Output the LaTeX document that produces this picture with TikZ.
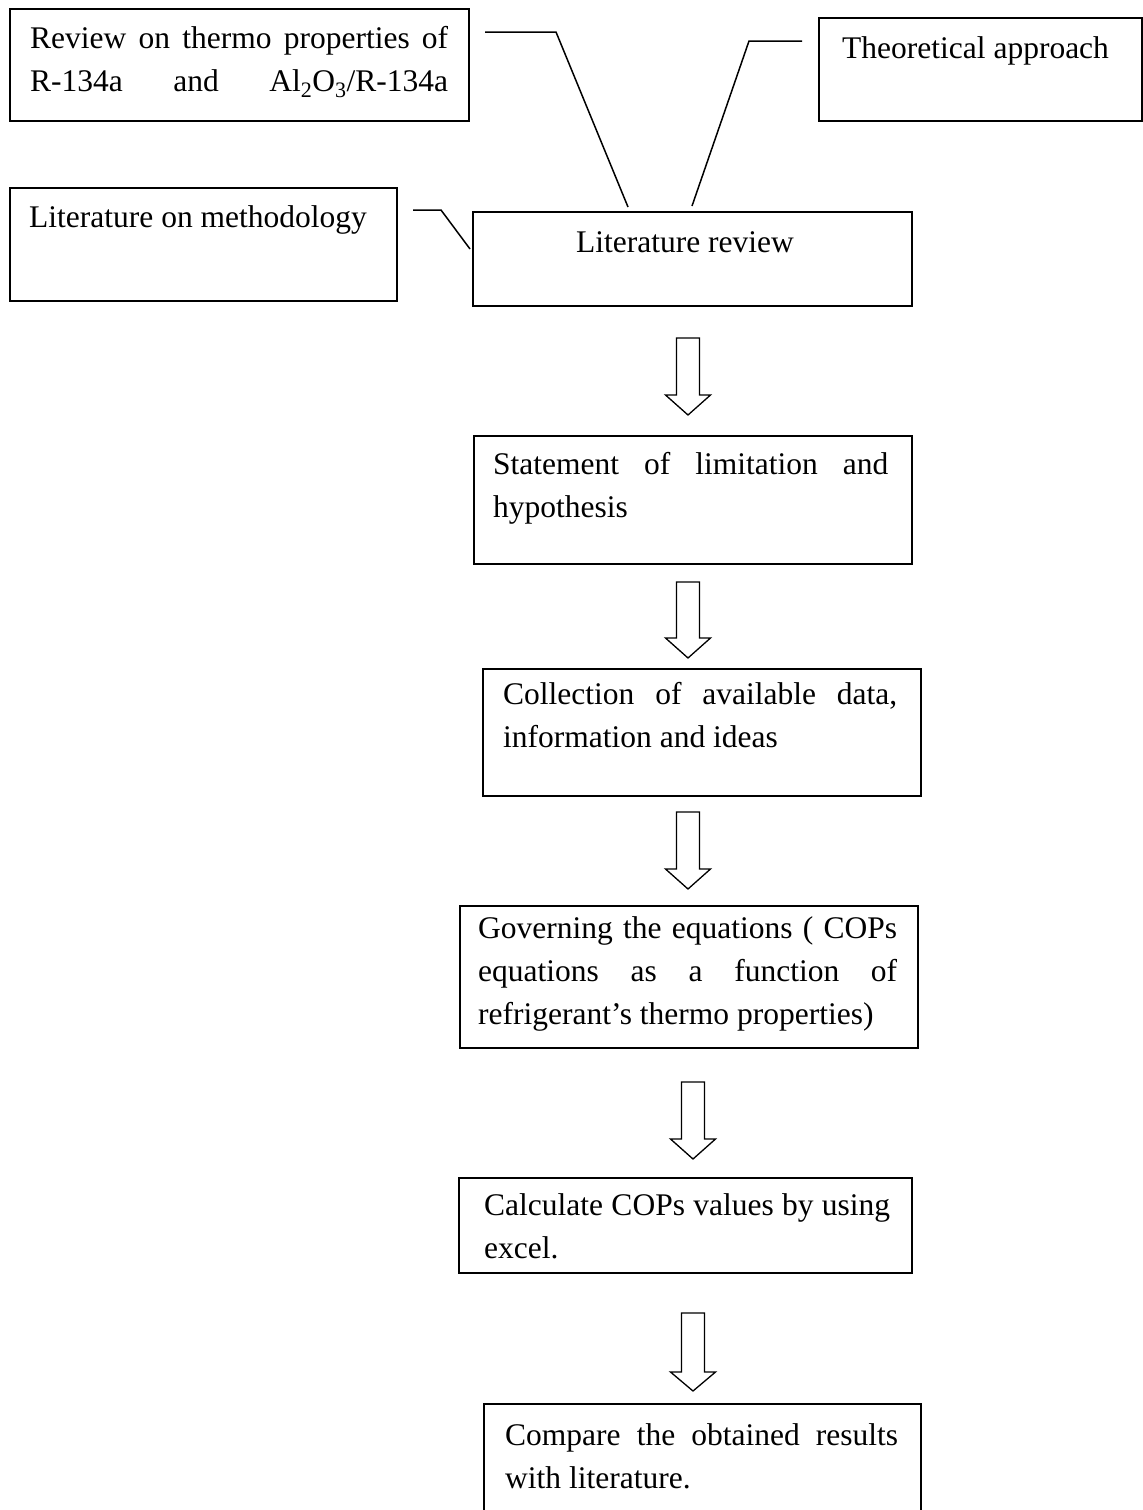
\documentclass[tikz,border=0pt]{standalone}
\usepackage{fontspec}
\setmainfont{Liberation Serif}
\newcommand\flowarrow[4]{%
  \draw[bigarrow] (#1-11.5,#2) -- (#1+11.5,#2) -- (#1+11.5,#3) -- (#1+22.5,#3)
    -- (#1,#4) -- (#1-22.5,#3) -- (#1-11.5,#3) -- cycle;}
\begin{document}
\begin{tikzpicture}[x=1pt,y=-1pt,
  box/.style={draw, line width=1.6pt, rectangle, inner sep=0pt, anchor=north west},
  txt/.style={inner sep=0pt, anchor=base west, font=\fontsize{31.5}{43}\selectfont},
  link/.style={line width=1.5pt, line join=miter},
  bigarrow/.style={draw, line width=1.3pt, fill=white, line join=miter}]
\clip (0,0) rectangle (1143,1510);
\fill[white] (0,0) rectangle (1143,1510);

% boxes
\node[box, minimum width=459, minimum height=112] (b1) at (9,8) {};
\node[box, minimum width=323, minimum height=103] (b2) at (818,17) {};
\node[box, minimum width=387, minimum height=113] (b3) at (9,187) {};
\node[box, minimum width=439, minimum height=94]  (b4) at (472,211) {};
\node[box, minimum width=438, minimum height=128] (b5) at (473,435) {};
\node[box, minimum width=438, minimum height=127] (b6) at (482,668) {};
\node[box, minimum width=458, minimum height=142] (b7) at (459,905) {};
\node[box, minimum width=453, minimum height=95]  (b8) at (458,1177) {};
\node[box, minimum width=437, minimum height=140] (b9) at (483,1403) {};

% texts
\node[txt] (t1) at (30,48) {\parbox[t]{418pt}{Review on thermo properties of\linebreak
  \makebox[\linewidth][s]{R-134a and Al\textsubscript{2}O\textsubscript{3}/R-134a}}};
\node[txt] (t2) at (842,58) {Theoretical approach};
\node[txt] (t3) at (29,227) {Literature on methodology};
\node[txt, anchor=base] (t4) at (685,252) {Literature review};
\node[txt] (t5) at (493,474) {\parbox[t]{395pt}{Statement of limitation and\linebreak hypothesis}};
\node[txt] (t6) at (503,704) {\parbox[t]{394pt}{Collection of available data,\linebreak information and ideas}};
\node[txt] (t7) at (478,938) {\parbox[t]{419pt}{Governing the equations ( COPs\linebreak equations as a function of\linebreak refrigerant’s thermo properties)}};
\node[txt] (t8) at (484,1215) {\parbox[t]{406pt}{Calculate COPs values by using\linebreak excel.}};
\node[txt] (t9) at (505,1445) {\parbox[t]{393pt}{Compare the obtained results\linebreak with literature.}};

% connectors to literature review
\coordinate (c1a) at (485,32);  \coordinate (c1b) at (556,32);  \coordinate (c1c) at (628,207);
\coordinate (c2a) at (802,41);  \coordinate (c2b) at (749,41);  \coordinate (c2c) at (692,206);
\coordinate (c3a) at (413,210); \coordinate (c3b) at (441,210); \coordinate (c3c) at (470,249);
\draw[link] (c1a) -- (c1b) -- (c1c);
\draw[link] (c2a) -- (c2b) -- (c2c);
\draw[link] (c3a) -- (c3b) -- (c3c);

% block arrows
\flowarrow{688}{338}{395}{415}
\flowarrow{688}{582}{638}{658}
\flowarrow{688}{812}{869}{889}
\flowarrow{693}{1082}{1139}{1159}
\flowarrow{693}{1313}{1372}{1391}
\end{tikzpicture}
\end{document}
